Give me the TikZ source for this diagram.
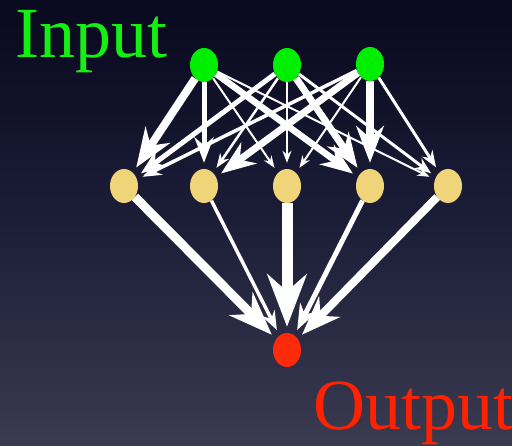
\documentclass[tikz,border=0pt]{standalone}
\usepackage{fontspec}
\setmainfont{Liberation Serif}
\usetikzlibrary{shapes.geometric,arrows.meta}
\definecolor{bgtop}{HTML}{08081E}
\definecolor{bgmid}{HTML}{1C1E38}
\definecolor{bgbot}{HTML}{3A3A50}
\definecolor{ingreen}{HTML}{00EE00}
\definecolor{hidyellow}{HTML}{F0D479}
\definecolor{outred}{HTML}{FF2A0A}
\definecolor{labgreen}{HTML}{14F014}
\definecolor{labred}{HTML}{FF2200}
\tikzset{
  neuron/.style={ellipse, minimum width=28pt, minimum height=34pt, inner sep=0pt},
  innode/.style={neuron, fill=ingreen},
  hidnode/.style={neuron, fill=hidyellow},
  outnode/.style={neuron, fill=outred},
  wire/.style={white, line width=#1, -{Stealth}, shorten >=6pt},
  biglabel/.style={font=\fontsize{72}{72}\selectfont, inner sep=0pt, anchor=base west}
}
\begin{document}
\begin{tikzpicture}[x=1pt, y=-1pt]
  % background with a vertical gradient
  \shade[top color=bgtop, bottom color=bgbot, middle color=bgmid] (0,0) rectangle (512,446);
  \useasboundingbox (0,0) rectangle (512,446);

  % layer labels
  \node[biglabel, text=labgreen] (inlab) at (15,58) {Input};
  \node[biglabel, text=labred] (outlab) at (313,430) {Output};

  % neurons
  \node[innode] (i1) at (204,65) {};
  \node[innode] (i2) at (287,65) {};
  \node[innode] (i3) at (370,64) {};
  \node[hidnode] (h1) at (124,186) {};
  \node[hidnode] (h2) at (204,186) {};
  \node[hidnode] (h3) at (287,186) {};
  \node[hidnode] (h4) at (370,186) {};
  \node[hidnode] (h5) at (448,186) {};
  \node[outnode] (o) at (287,350) {};

  % input -> hidden weights
  \draw[wire=2pt] (i1) -- (h3);
  \draw[wire=2pt] (i1) -- (h5);
  \draw[wire=2pt] (i2) -- (h3);
  \draw[wire=2pt] (i3) -- (h3);
  \draw[wire=2.5pt] (i2) -- (h2);
  \draw[wire=3pt] (i2) -- (h5);
  \draw[wire=3pt] (i3) -- (h5);
  \draw[wire=3.5pt] (i3) -- (h1);
  \draw[wire=5pt] (i2) -- (h1);
  \draw[wire=5pt] (i1) -- (h2);
  \draw[wire=6.5pt] (i1) -- (h4);
  \draw[wire=7pt] (i2) -- (h4);
  \draw[wire=7pt] (i3) -- (h2);
  \draw[wire=7.5pt] (i3) -- (h4);
  \draw[wire=8pt] (i1) -- (h1);

  % hidden -> output weights
  \draw[wire=3.5pt] (h2) -- (o);
  \draw[wire=5pt] (h4) -- (o);
  \draw[wire=8pt] (h5) -- (o);
  \draw[wire=9pt] (h1) -- (o);
  \draw[wire=11pt] (h3) -- (o);
\end{tikzpicture}
\end{document}
